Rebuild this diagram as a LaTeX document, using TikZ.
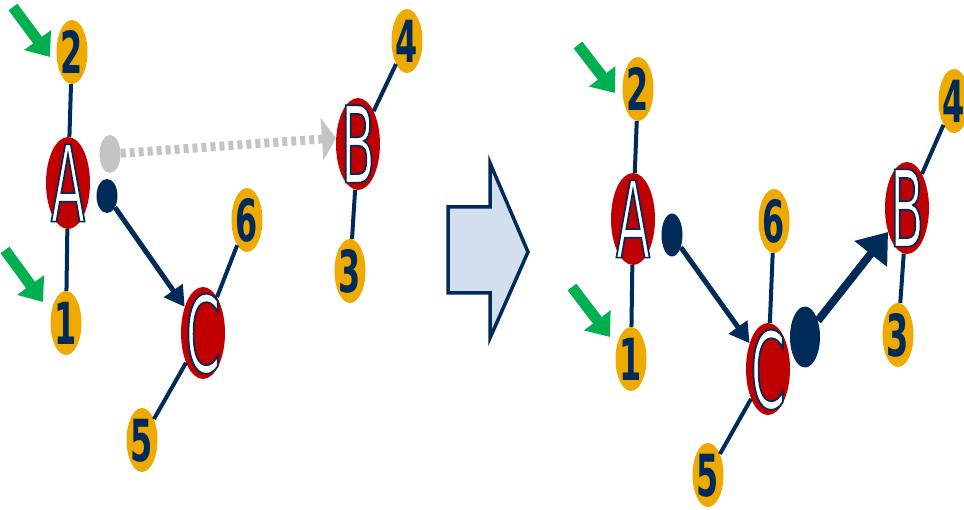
\documentclass[tikz,border=0pt]{standalone}
\usepackage{fontspec}
\usepackage{xcolor}
\definecolor{atomRed}{RGB}{192,0,0}
\definecolor{siteGold}{RGB}{238,170,0}
\definecolor{bondNavy}{RGB}{0,42,88}
\definecolor{pickGreen}{RGB}{0,176,80}
\definecolor{ghostGray}{RGB}{196,196,196}
\definecolor{stepFill}{RGB}{211,222,238}
\newfontfamily\letterfont[FakeStretch=0.47]{DejaVu Sans}
\newfontfamily\digitfont[FakeStretch=0.55]{DejaVu Sans}
% white letter, navy rim (text render mode 2)
\newcommand{\rimmed}[1]{\special{pdf:code 2 Tr 1.7 w 0 0.165 0.345 RG}#1\special{pdf:code 0 Tr}}
\newcommand{\midtext}[1]{\smash{\makebox[0pt]{\raisebox{-0.5\height}{#1}}}}
\usepackage{tikz}
\usetikzlibrary{shapes}
\usetikzlibrary{arrows.meta}
\tikzstyle{atom} = [ellipse, fill=atomRed, inner sep=0pt, minimum width=44pt, minimum height=92pt,
        text=white, font={\fontsize{106}{106}\selectfont\letterfont}]
\tikzstyle{site} = [ellipse, fill=siteGold, inner sep=0pt, minimum width=31pt, minimum height=64pt,
        text=bondNavy, font={\fontsize{58}{58}\selectfont\digitfont\bfseries}]
\tikzstyle{tail} = [ellipse, inner sep=0pt, minimum width=21pt, minimum height=38pt]
\tikzstyle{bond} = [draw=bondNavy, line width=4pt]
\tikzstyle{pick} = [draw=pickGreen, line width=11pt, -{Triangle[length=21pt,width=32pt]}]

\begin{document}
\begin{tikzpicture}[x=1pt, y=-1pt]
            \useasboundingbox (0,0) rectangle (964,510);
            % before
            \node [site] (n2L) at (72,52) {\midtext{2}};
            \node [atom] (AL) at (68,183) {\midtext{\rimmed{A}}};
            \node [site] (n1L) at (66,323) {\midtext{1}};
            \node [tail, fill=ghostGray] (dotGL) at (110,154) {};
            \node [tail, fill=bondNavy, minimum height=34pt] (dotNL) at (107,196) {};
            \node [site] (n6L) at (247,220) {\midtext{6}};
            \node [atom] (CL) at (203,333) {\midtext{\rimmed{C}}};
            \node [site] (n5L) at (142,440) {\midtext{5}};
            \node [atom] (BL) at (358,144) {\midtext{\rimmed{B}}};
            \node [site] (n4L) at (407,41) {\midtext{4}};
            \node [site] (n3L) at (350,271) {\midtext{3}};
            \draw [bond] (n2L) -- (AL);
            \draw [bond] (AL) -- (n1L);
            \draw [bond] (CL) -- (n6L);
            \draw [bond] (CL) -- (n5L);
            \draw [bond] (BL) -- (n4L);
            \draw [bond] (BL) -- (n3L);
            \draw [draw=ghostGray, line width=9pt, dash pattern=on 5pt off 4pt,
                -{Triangle[length=14pt,width=42pt]}] (dotGL) -- (BL.165);
            \draw [bond, line width=5pt, -{Triangle[length=20pt,width=22pt]}] (dotNL) -- (CL);
            \coordinate (g2L) at (13,7);
            \coordinate (g2Ltip) at (50,57);
            \coordinate (g1L) at (5,250);
            \coordinate (g1Ltip) at (43,302);
            \draw [pick] (g2L) -- (g2Ltip);
            \draw [pick] (g1L) -- (g1Ltip);
            % step
            \draw [draw=bondNavy, fill=stepFill, line width=3.5pt, line join=miter]
                (448,207) -- (490,207) -- (490,163) -- (528,252) -- (490,338) -- (490,293) -- (448,293) -- cycle;
            % after
            \node [site] (n2R) at (638,89) {\midtext{2}};
            \node [atom] (AR) at (633,219) {\midtext{\rimmed{A}}};
            \node [site] (n1R) at (631,359) {\midtext{1}};
            \node [tail, fill=bondNavy, minimum height=43pt] (dotNR) at (672,235) {};
            \node [site] (n6R) at (774,221) {\midtext{6}};
            \node [atom] (CR) at (768,369) {\midtext{\rimmed{C}}};
            \node [site] (n5R) at (708,475) {\midtext{5}};
            \node [tail, fill=bondNavy, minimum width=30pt, minimum height=61pt] (dotR) at (805,337) {};
            \node [atom] (BR) at (907,208) {\midtext{\rimmed{B}}};
            \node [site] (n3R) at (898,335) {\midtext{3}};
            \node [site] (n4R) at (954,101) {\midtext{4}};
            \draw [bond] (n2R) -- (AR);
            \draw [bond] (AR) -- (n1R);
            \draw [bond] (CR) -- (n6R);
            \draw [bond] (CR) -- (n5R);
            \draw [bond] (BR) -- (n4R);
            \draw [bond] (BR) -- (n3R);
            \draw [bond, line width=5pt, -{Triangle[length=20pt,width=22pt]}] (dotNR) -- (CR);
            \draw [bond, line width=8pt, -{Triangle[length=28pt,width=40pt]}] (dotR) -- (BR);
            \coordinate (g2R) at (578,45);
            \coordinate (g2Rtip) at (615,93);
            \coordinate (g1R) at (572,287);
            \coordinate (g1Rtip) at (610,337);
            \draw [pick] (g2R) -- (g2Rtip);
            \draw [pick] (g1R) -- (g1Rtip);
        \end{tikzpicture}
\end{document}
